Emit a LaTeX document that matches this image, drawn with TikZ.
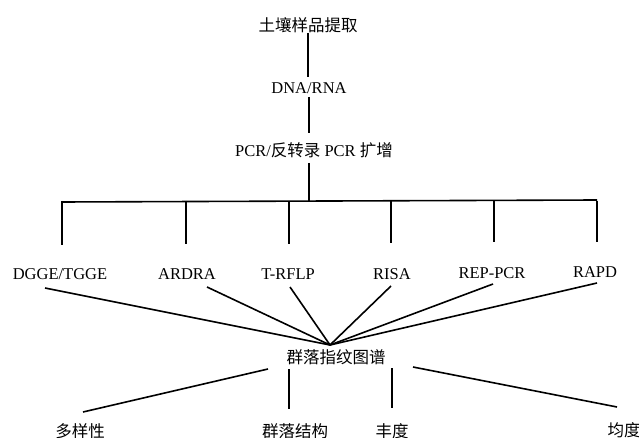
\documentclass[tikz,border=0pt]{standalone}
\usepackage{fontspec}
\setmainfont{Liberation Serif}
\newfontfamily\cjk{Noto Sans CJK SC}
\begin{document}
\begin{tikzpicture}[x=1pt,y=-1pt,
  lbl/.style={inner sep=0pt, font=\fontsize{16.5}{18}\selectfont},
  ln/.style={line width=1.6pt, line cap=butt}]
\useasboundingbox[fill=white] (0,0) rectangle (639,438);
\begin{scope}
\clip (0,0) rectangle (639,438);
% top chain
\node[lbl] (soil) at (308,25) {\cjk 土壤样品提取};
\node[lbl] (dna) at (309,88) {DNA/RNA};
\node[lbl] (pcr) at (314,150) {PCR/{\cjk 反转录} PCR {\cjk 扩增}};
\coordinate (s1) at (308,33);
\coordinate (e1) at (308,77);
\coordinate (s2) at (309,97);
\coordinate (e2) at (309,133);
\coordinate (s3) at (309,163);
\coordinate (bar) at (309,201);
\coordinate (barL) at (62,202);
\coordinate (barR) at (597,200);
\draw[ln] (s1) -- (e1);
\draw[ln] (s2) -- (e2);
\draw[ln] (s3) -- (bar);
\draw[ln] (barL) -- (barR);
% methods
\node[lbl] (m1) at (60,274) {DGGE/TGGE};
\node[lbl] (m2) at (187,274) {ARDRA};
\node[lbl] (m3) at (288,274) {T-RFLP};
\node[lbl] (m4) at (392,274) {RISA};
\node[lbl] (m5) at (492,273) {REP-PCR};
\node[lbl] (m6) at (595,272) {RAPD};
\coordinate (d1) at (62,245);
\coordinate (d2) at (186,244);
\coordinate (d3) at (289,244);
\coordinate (d4) at (391,243);
\coordinate (d5) at (494,242);
\coordinate (d6) at (597,242);
\foreach \i in {1,...,6} \draw[ln] (d\i |- bar) -- (d\i);
% converge
\coordinate (hub) at (330,345);
\coordinate (u1) at (45,288);
\coordinate (u2) at (207,287);
\coordinate (u3) at (290,287);
\coordinate (u4) at (391,286);
\coordinate (u5) at (493,284);
\coordinate (u6) at (597,283);
\foreach \i in {1,...,6} \draw[ln] (u\i) -- (hub);
\node[lbl] (fp) at (336,357) {\cjk 群落指纹图谱};
% bottom
\node[lbl] (b1) at (80,431) {\cjk 多样性};
\node[lbl] (b2) at (295,431) {\cjk 群落结构};
\node[lbl] (b3) at (392,431) {\cjk 丰度};
\node[lbl] (b4) at (624,430) {\cjk 均度};
\coordinate (v1) at (268,369); \coordinate (w1) at (83,412);
\coordinate (v2) at (289,369); \coordinate (w2) at (289,409);
\coordinate (v3) at (392,368); \coordinate (w3) at (392,408);
\coordinate (v4) at (413,367); \coordinate (w4) at (617,407);
\foreach \i in {1,...,4} \draw[ln] (v\i) -- (w\i);
\end{scope}
\end{tikzpicture}
\end{document}
